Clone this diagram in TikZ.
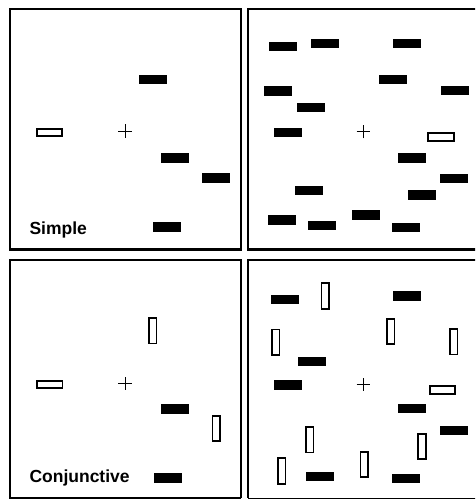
\documentclass[tikz,border=0pt]{standalone}
\usepackage{fontspec}
\setmainfont{Liberation Sans}
\usetikzlibrary{shapes.misc}
\tikzset{
  panel/.style={line width=2.8pt},
  blk/.style={fill=black, inner sep=0pt, minimum width=28pt, minimum height=9.5pt},
  hout/.style={draw, fill=white, line width=1.8pt, inner sep=0pt, minimum width=25.5pt, minimum height=7.5pt},
  vout/.style={draw, fill=white, line width=1.8pt, inner sep=0pt, minimum width=7.5pt, minimum height=25.5pt},
  fix/.style={draw, shape=cross out, rotate=45, line width=0.9pt, inner sep=0pt, minimum size=8.5pt},
  lab/.style={font=\bfseries\fontsize{17.5}{20}\selectfont, inner sep=0pt, anchor=base west}
}
\begin{document}
\begin{tikzpicture}[x=1pt,y=-1pt]
\useasboundingbox (0,0) rectangle (475,501);
\clip (0,0) rectangle (475,501);
\fill[white] (0,0) rectangle (475,501);
% panels
\draw[panel] (10,9) rectangle (241,249.5);
\draw[panel] (248,9) rectangle (480,249.5);
\draw[panel] (241,498) -- (10,498) -- (10,260) -- (241,260) -- (241,498);
\draw[panel] (480,260) -- (248,260) -- (248,498);
\draw[line width=1pt] (248,498) -- (480,498);
% Simple, few distractors
\node[blk] (s1) at (153,79.5) {};
\node[blk] (s2) at (175,158) {};
\node[blk] (s3) at (215.5,178) {};
\node[blk] (s4) at (166.5,227) {};
\node[hout] (st) at (49.5,132.5) {};
\node[fix] (sf) at (125,131) {};
\node[lab] (sl) at (29.3,234.3) {Simple};
% Simple, many distractors
\node[blk] (m1) at (283,46.7) {};
\node[blk] (m2) at (325,43.3) {};
\node[blk] (m3) at (407,43.3) {};
\node[blk] (m4) at (392.5,79.7) {};
\node[blk] (m5) at (277.5,91) {};
\node[blk] (m6) at (455,90.7) {};
\node[blk] (m7) at (311.3,107.7) {};
\node[blk] (m8) at (287.5,132.3) {};
\node[blk] (m9) at (412.3,158) {};
\node[blk] (m10) at (453.8,178.3) {};
\node[blk] (m11) at (309.3,190.3) {};
\node[blk] (m12) at (421.5,195.2) {};
\node[blk] (m13) at (282,220) {};
\node[blk] (m14) at (366.3,215) {};
\node[blk] (m15) at (322,225.7) {};
\node[blk] (m16) at (405.8,227.3) {};
\node[hout] (mt) at (441,137) {};
\node[fix] (mf) at (363.3,131.7) {};
% Conjunctive, few distractors
\node[vout] (c1) at (152.8,330.8) {};
\node[vout] (c2) at (216.2,428.5) {};
\node[blk] (c3) at (175.2,409) {};
\node[blk] (c4) at (168.2,477.8) {};
\node[hout] (ct) at (49.8,384.5) {};
\node[fix] (cf) at (125,383.3) {};
\node[lab] (cl) at (29.3,482.3) {Conjunctive};
% Conjunctive, many distractors
\node[blk] (k1) at (284.7,299.3) {};
\node[blk] (k2) at (407,296) {};
\node[blk] (k3) at (311.8,361.3) {};
\node[blk] (k4) at (287.7,385) {};
\node[blk] (k5) at (412.3,408.3) {};
\node[blk] (k6) at (454.2,430.3) {};
\node[blk] (k7) at (320.3,476.7) {};
\node[blk] (k8) at (405.8,478.3) {};
\node[vout] (v1) at (325.2,296) {};
\node[vout] (v2) at (390.7,331.5) {};
\node[vout] (v3) at (275.8,342.3) {};
\node[vout] (v4) at (453.7,341.7) {};
\node[vout] (v5) at (309.8,439.7) {};
\node[vout] (v6) at (422,446.5) {};
\node[vout] (v7) at (281.8,471) {};
\node[vout] (v8) at (364.3,464.5) {};
\node[hout] (kt) at (442.5,390) {};
\node[fix] (kf) at (363.3,384.3) {};
\end{tikzpicture}
\end{document}
